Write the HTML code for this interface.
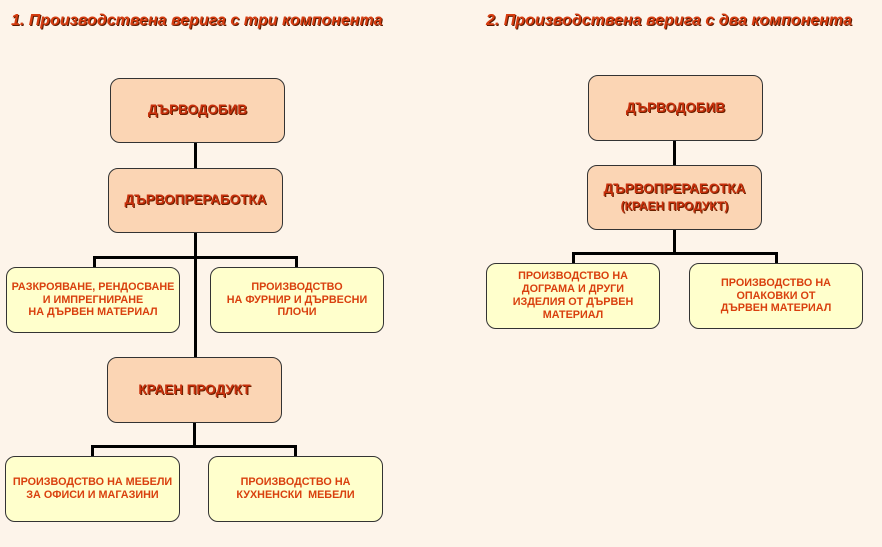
<!DOCTYPE html>
<html><head><meta charset="utf-8"><style>
html,body{margin:0;padding:0}
body{width:882px;height:547px;background:#fdf4ea;position:relative;overflow:hidden;font-family:"Liberation Sans",Arial,sans-serif}
.t{position:absolute;top:12px;font-size:16px;font-weight:bold;font-style:italic;color:#d63c10;text-shadow:1px 1px 0 #5a1a00;white-space:nowrap}
.b{position:absolute;box-sizing:border-box;border:1.5px solid #333;border-radius:10px;display:flex;align-items:center;justify-content:center;text-align:center;font-weight:bold;line-height:1.25}
.p{background:#fbd5b4;color:#c8300c;font-size:13.5px;text-shadow:1px 1px 0 #6a2000}
.y{background:#ffffcc;color:#d9400e;font-size:10.8px;line-height:1.2}
.l{position:absolute;background:#000}
</style></head><body>
<div class="t" style="left:11px">1. Производствена верига с три компонента</div>
<div class="t" style="left:486px">2. Производствена верига с два компонента</div>

<div class="l" style="left:194px;top:142px;width:3px;height:27px"></div>
<div class="l" style="left:194px;top:232px;width:3px;height:126px"></div>
<div class="l" style="left:93px;top:256px;width:205px;height:3px"></div>
<div class="l" style="left:93px;top:256px;width:3px;height:12px"></div>
<div class="l" style="left:295px;top:256px;width:3px;height:12px"></div>
<div class="l" style="left:193px;top:422px;width:3px;height:25px"></div>
<div class="l" style="left:91px;top:445px;width:206px;height:3px"></div>
<div class="l" style="left:91px;top:445px;width:3px;height:12px"></div>
<div class="l" style="left:294px;top:445px;width:3px;height:12px"></div>

<div class="b p" style="left:110px;top:78px;width:175px;height:65px"><div>ДЪРВОДОБИВ</div></div>
<div class="b p" style="left:108px;top:168px;width:175px;height:65px"><div>ДЪРВОПРЕРАБОТКА</div></div>
<div class="b y" style="left:6px;top:267px;width:174px;height:66px"><div>РАЗКРОЯВАНЕ, РЕНДОСВАНЕ<br>И ИМПРЕГНИРАНЕ<br>НА ДЪРВЕН МАТЕРИАЛ</div></div>
<div class="b y" style="left:210px;top:267px;width:174px;height:66px"><div>ПРОИЗВОДСТВО<br>НА ФУРНИР И ДЪРВЕСНИ<br>ПЛОЧИ</div></div>
<div class="b p" style="left:107px;top:357px;width:175px;height:66px"><div>КРАЕН ПРОДУКТ</div></div>
<div class="b y" style="left:5px;top:456px;width:175px;height:66px"><div>ПРОИЗВОДСТВО НА МЕБЕЛИ<br>ЗА ОФИСИ И МАГАЗИНИ</div></div>
<div class="b y" style="left:208px;top:456px;width:175px;height:66px"><div>ПРОИЗВОДСТВО НА<br>КУХНЕНСКИ&nbsp; МЕБЕЛИ</div></div>

<div class="l" style="left:673px;top:140px;width:3px;height:26px"></div>
<div class="l" style="left:673px;top:229px;width:3px;height:26px"></div>
<div class="l" style="left:572px;top:252px;width:206px;height:3px"></div>
<div class="l" style="left:572px;top:252px;width:3px;height:12px"></div>
<div class="l" style="left:775px;top:252px;width:3px;height:12px"></div>

<div class="b p" style="left:588px;top:75px;width:175px;height:66px"><div>ДЪРВОДОБИВ</div></div>
<div class="b p" style="left:587px;top:165px;width:175px;height:65px"><div>ДЪРВОПРЕРАБОТКА<br><span style="font-size:12px">(КРАЕН ПРОДУКТ)</span></div></div>
<div class="b y" style="left:486px;top:263px;width:174px;height:66px"><div>ПРОИЗВОДСТВО НА<br>ДОГРАМА И ДРУГИ<br>ИЗДЕЛИЯ ОТ ДЪРВЕН<br>МАТЕРИАЛ</div></div>
<div class="b y" style="left:689px;top:263px;width:174px;height:66px"><div>ПРОИЗВОДСТВО НА<br>ОПАКОВКИ ОТ<br>ДЪРВЕН МАТЕРИАЛ</div></div>
</body></html>
